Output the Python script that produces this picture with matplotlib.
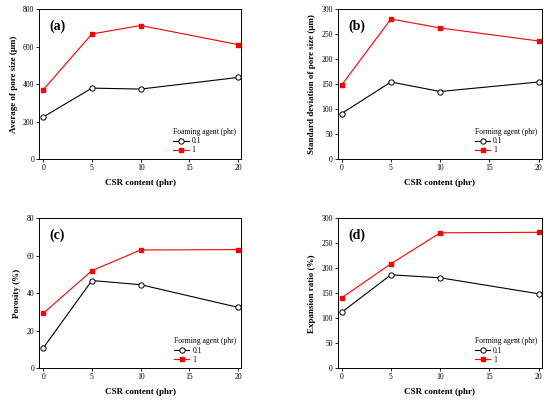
import matplotlib.pyplot as plt

plt.rcParams['font.family'] = ['Liberation Serif', 'DejaVu Serif']

csr = [0, 5, 10, 20]

avg_01 = [224, 378, 373, 435]
avg_1 = [369, 667, 712, 610]

std_01 = [91, 154, 135, 154]
std_1 = [148, 280, 262, 236]

por_01 = [10.8, 46.8, 44.6, 32.5]
por_1 = [29.3, 52.1, 63.1, 63.3]

exp_01 = [112, 187, 181, 149]
exp_1 = [141, 209, 271, 272]

panels = [
    ('(a)', avg_01, avg_1, 'Average of pore size (\u03bcm)', 800, 200, 'Foaming agent (phr)'),
    ('(b)', std_01, std_1, 'Standard deviation of pore size (\u03bcm)', 300, 50, 'Forming agent (phr)'),
    ('(c)', por_01, por_1, 'Porosity (%)', 80, 20, 'Forming agent (phr)'),
    ('(d)', exp_01, exp_1, 'Expansion ratio (%)', 300, 50, 'Forming agent (phr)'),
]

# axes boxes in pixels (left, top, right, bottom)
boxes = [(39.3, 9, 241, 159), (337.7, 9, 541.7, 159),
         (39.3, 218.3, 241, 368.3), (337.7, 218.3, 541.7, 368.3)]

W, H = 550, 403
fig = plt.figure(figsize=(5.5, 4.03), dpi=100)

for (lab, s01, s1, ylab, ymax, ystep, ltitle), (l, t, r, b) in zip(panels, boxes):
    ax = fig.add_axes([l / W, 1 - b / H, (r - l) / W, (b - t) / H])
    ax.plot(csr, s01, color='black', lw=0.8, marker='o', ms=3.8,
            mfc='white', mec='black', mew=0.7, label='0.1')
    ax.plot(csr, s1, color='red', lw=0.8, marker='s', ms=3.5,
            mfc='red', mec='red', label='1')
    ax.set_xlim(-0.4, 20.3)
    ax.set_ylim(0, ymax)
    ax.set_xticks([0, 5, 10, 15, 20])
    ax.set_yticks(list(range(0, ymax + 1, ystep)))
    ax.tick_params(labelsize=5.5, length=2, width=0.6, pad=1.5)
    for sp in ax.spines.values():
        sp.set_linewidth(0.7)
    ax.set_xlabel('CSR content (phr)', fontsize=6.5, fontweight='bold', labelpad=5)
    ax.set_ylabel(ylab, fontsize=6.5, fontweight='bold', labelpad=4)
    ax.text(0.05, 0.93, lab, transform=ax.transAxes, fontsize=10,
            fontweight='bold', va='top', ha='left')
    leg = ax.legend(title=ltitle, loc='lower right', frameon=False,
                    fontsize=5.5, title_fontsize=5.5, handlelength=2.0,
                    handletextpad=0.4, labelspacing=0.15, borderaxespad=0.4,
                    borderpad=0.2)
    leg._legend_box.align = 'left'

fig.savefig('out.png', dpi=100)
